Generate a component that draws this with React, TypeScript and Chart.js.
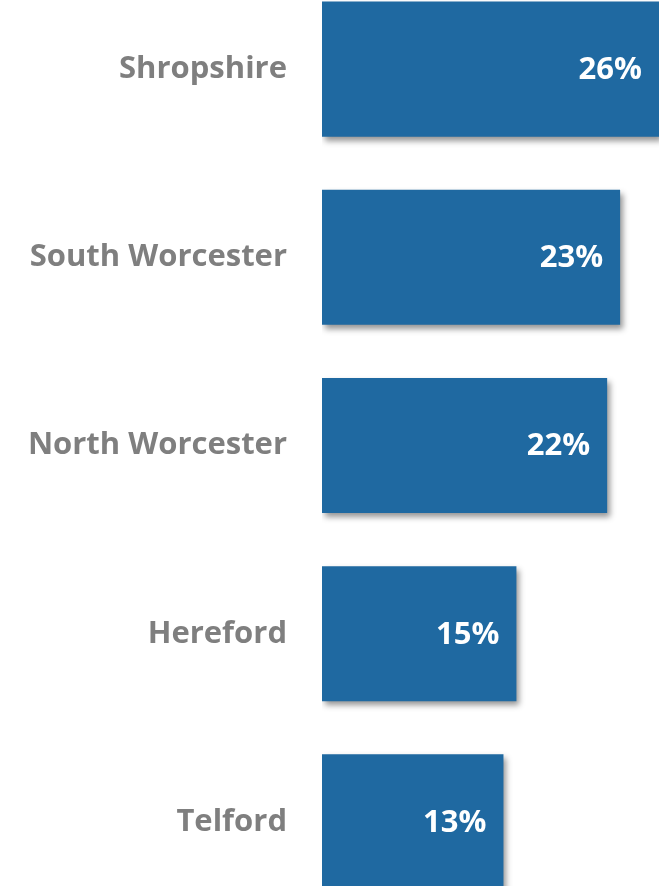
import React, { useEffect, useRef } from "react";
import { Chart, registerables } from "chart.js";

Chart.register(...registerables);

const categories = ["Shropshire", "South Worcester", "North Worcester", "Hereford", "Telford"];
// bar lengths (percent)
const barValues = [26, 23, 22, 15, 14];
// data labels as printed on the bars
const valueLabels = ["26%", "23%", "22%", "15%", "13%"];

const BAR_COLOR = "#1F69A1";
const LABEL_COLOR = "#7F7F7F";
const FONT = "'Open Sans', Lato, sans-serif";

const shadowPlugin = {
  id: "barShadow",
  beforeDatasetDraw(chart: any) {
    const ctx = chart.ctx;
    ctx.save();
    ctx.shadowColor = "rgba(0,0,0,0.42)";
    ctx.shadowBlur = 6;
    ctx.shadowOffsetX = 3;
    ctx.shadowOffsetY = 4;
  },
  afterDatasetDraw(chart: any) {
    chart.ctx.restore();
  },
};

const valueLabelPlugin = {
  id: "valueLabels",
  afterDatasetsDraw(chart: any) {
    const ctx = chart.ctx;
    const meta = chart.getDatasetMeta(0);
    ctx.save();
    ctx.fillStyle = "#FFFFFF";
    ctx.font = `bold 31px ${FONT}`;
    ctx.textAlign = "right";
    ctx.textBaseline = "middle";
    meta.data.forEach((bar: any, i: number) => {
      ctx.fillText(valueLabels[i], bar.x - 17, bar.y + 1);
    });
    ctx.restore();
  },
};

export default function App() {
  const ref = useRef<HTMLCanvasElement | null>(null);

  useEffect(() => {
    if (!ref.current) return;
    const chart = new Chart(ref.current, {
      type: "bar",
      data: {
        labels: categories,
        datasets: [
          {
            data: barValues,
            backgroundColor: BAR_COLOR,
            borderWidth: 0,
            categoryPercentage: 1,
            barPercentage: 0.718,
          },
        ],
      },
      options: {
        indexAxis: "y",
        animation: false,
        responsive: false,
        maintainAspectRatio: false,
        layout: { padding: { left: 0, right: 3, top: 0, bottom: 0 } },
        plugins: {
          legend: { display: false },
          tooltip: { enabled: false },
        },
        scales: {
          x: {
            display: false,
            min: 0,
            max: 26,
          },
          y: {
            grid: { display: false, drawTicks: false },
            border: { display: false },
            ticks: {
              padding: 35,
              color: LABEL_COLOR,
              font: { family: FONT, size: 31, weight: "bold" },
            },
            afterFit(scale: any) {
              scale.width = 322;
              scale.paddingTop = 0;
              scale.paddingBottom = 0;
            },
          },
        },
      },
      plugins: [shadowPlugin, valueLabelPlugin],
    } as any);
    return () => chart.destroy();
  }, []);

  return (
    <div
      style={{
        position: "fixed",
        left: 0,
        top: 0,
        width: 662,
        height: 886,
        overflow: "hidden",
        background: "#FFFFFF",
      }}
    >
      <div style={{ position: "absolute", left: 0, top: -25, width: 662, height: 941 }}>
        <canvas ref={ref} width={662} height={941} style={{ width: 662, height: 941, display: "block" }} />
      </div>
    </div>
  );
}
